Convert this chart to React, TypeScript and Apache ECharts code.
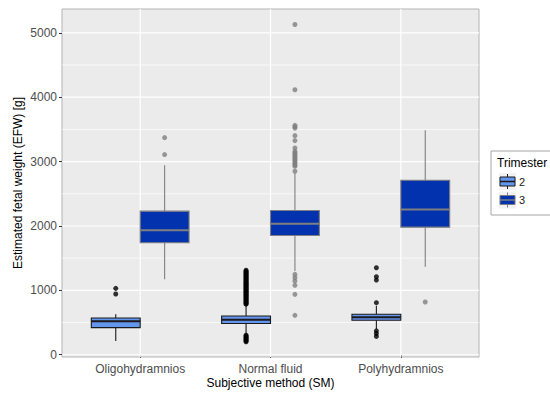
import React, { useEffect, useRef } from 'react';
import * as echarts from 'echarts';

const categories = ['Oligohydramnios', 'Normal fluid', 'Polyhydramnios'];
const trimesters = ['2', '3'];
// [lower whisker, Q1, median, Q3, upper whisker] per category
const boxT2 = [
  [214, 421, 519, 571, 628],
  [330, 486, 542, 602, 770],
  [400, 535, 581, 628, 760],
];
const boxT3 = [
  [1171, 1739, 1935, 2230, 2943],
  [1300, 1853, 2034, 2240, 2820],
  [1367, 1982, 2256, 2710, 3486],
];
const outliersT2 = [
  [943, 1031],
  [
    201, 214, 226, 239, 252, 265, 278, 291, 304,
    785, 794, 806, 818, 829, 841, 853, 864, 877, 888, 901, 912, 924, 936, 947, 959, 971, 983, 994,
    1006, 1018, 1030, 1041, 1053, 1065, 1077, 1088, 1100, 1112, 1124, 1135, 1147, 1159, 1171, 1182,
    1194, 1206, 1218, 1229, 1241, 1253, 1265, 1276, 1288, 1300, 1312,
  ],
  [285, 330, 372, 809, 1160, 1212, 1351],
];
const outliersT3 = [
  [3109, 3372],
  [
    612, 938, 1078, 1145, 1197, 1248,
    2850, 2927, 2945, 2966, 2988, 3010, 3031, 3053, 3075, 3097, 3118, 3140, 3160, 3212, 3326, 3403,
    3520, 3540, 3563, 4116, 5129,
  ],
  [819],
];
const yTicks = [0, 1000, 2000, 3000, 4000, 5000];
const yMinorGrid = [500, 1500, 2500, 3500, 4500];

const FONT = 'Liberation Sans, Arial, sans-serif';
const BOX_W = 0.375;
const DODGE = 0.1875;
const COL_T2 = '#6495ED';
const COL_T3 = '#0232AE';
const LINE_T2 = '#1a1a1a';
const LINE_T3 = '#7f7f7f';

function boxSeries(name: string, boxes: number[][], offset: number, fill: string, line: string) {
  return {
    name,
    type: 'custom',
    z: 3,
    encode: { x: 0, y: [1, 2, 3, 4, 5] },
    data: boxes.map((b, i) => [i + 1 + offset, ...b]),
    renderItem: (params: any, api: any) => {
      const x = api.value(0);
      const lo = api.coord([x, api.value(1)]);
      const q1 = api.coord([x, api.value(2)]);
      const med = api.coord([x, api.value(3)]);
      const q3 = api.coord([x, api.value(4)]);
      const hi = api.coord([x, api.value(5)]);
      const half = api.size([BOX_W, 0])[0] / 2;
      const cx = lo[0];
      return {
        type: 'group',
        children: [
          { type: 'line', shape: { x1: cx, y1: hi[1], x2: cx, y2: q3[1] }, style: { stroke: line, lineWidth: 1.1 } },
          { type: 'line', shape: { x1: cx, y1: q1[1], x2: cx, y2: lo[1] }, style: { stroke: line, lineWidth: 1.1 } },
          {
            type: 'rect',
            shape: { x: cx - half, y: q3[1], width: half * 2, height: q1[1] - q3[1] },
            style: { fill, stroke: line, lineWidth: 1.1 },
          },
          { type: 'line', shape: { x1: cx - half, y1: med[1], x2: cx + half, y2: med[1] }, style: { stroke: line, lineWidth: 2 } },
        ],
      };
    },
  };
}

function outlierSeries(name: string, outs: number[][], offset: number, color: string) {
  const data: number[][] = [];
  outs.forEach((vals, i) => vals.forEach((v) => data.push([i + 1 + offset, v])));
  return {
    name: name + '-out',
    type: 'scatter',
    z: 4,
    symbol: 'circle',
    symbolSize: 5,
    itemStyle: { color },
    data,
  };
}

export default function App() {
  const ref = useRef<HTMLDivElement>(null);
  useEffect(() => {
    if (!ref.current) return;
    const chart = echarts.init(ref.current, undefined, { renderer: 'svg' });
    const hGrid = [
      ...yTicks.map((v) => [2, v, 1.2]),
      ...yMinorGrid.map((v) => [2, v, 0.7]),
    ];
    const vGrid = categories.map((_, i) => [i + 1, 0]);
    const legendKeys = trimesters.map((t, k) => {
      const y0 = 173 + k * 18.5;
      const fill = k === 0 ? COL_T2 : COL_T3;
      const line = k === 0 ? LINE_T2 : LINE_T3;
      return {
        type: 'group',
        children: [
          { type: 'rect', shape: { x: 499, y: y0, width: 17, height: 17 }, style: { fill: '#f2f2f2' } },
          { type: 'line', shape: { x1: 507.5, y1: y0 + 1, x2: 507.5, y2: y0 + 16 }, style: { stroke: line, lineWidth: 1 } },
          { type: 'rect', shape: { x: 500, y: y0 + 4, width: 15, height: 9 }, style: { fill, stroke: line, lineWidth: 1 } },
          { type: 'line', shape: { x1: 500, y1: y0 + 8.5, x2: 515, y2: y0 + 8.5 }, style: { stroke: line, lineWidth: 1.5 } },
          { type: 'text', x: 519, y: y0 + 8.5, style: { text: t, fontSize: 11, fontFamily: FONT, fill: '#1a1a1a', verticalAlign: 'middle' } },
        ],
      };
    });
    chart.setOption({
      animation: false,
      grid: {
        left: 62,
        right: 71,
        top: 9,
        bottom: 36,
        show: true,
        outerBoundsMode: 'none',
        containLabel: false,
        backgroundColor: '#ebebeb',
        borderColor: '#b3b3b3',
        borderWidth: 1,
      },
      xAxis: {
        type: 'value',
        min: 0.4,
        max: 3.6,
        name: 'Subjective method (SM)',
        nameLocation: 'middle',
        nameGap: 20,
        nameMoveOverlap: false,
        nameTextStyle: { fontSize: 12, fontFamily: FONT, color: '#000' },
        axisLine: { show: false },
        splitLine: { show: false },
        axisTick: { show: true, length: 3, customValues: [1, 2, 3], lineStyle: { color: '#333' } },
        axisLabel: {
          customValues: [1, 2, 3],
          formatter: (v: number) => categories[Math.round(v) - 1] ?? '',
          fontSize: 12,
          fontFamily: FONT,
          color: '#4d4d4d',
          margin: 6,
        },
      },
      yAxis: {
        type: 'value',
        min: -35,
        max: 5370,
        name: 'Estimated fetal weight (EFW) [g]',
        nameLocation: 'middle',
        nameGap: 38,
        nameMoveOverlap: false,
        nameTextStyle: { fontSize: 12, fontFamily: FONT, color: '#000' },
        axisLine: { show: false },
        splitLine: { show: false },
        axisTick: { show: true, length: 3, customValues: yTicks, lineStyle: { color: '#333' } },
        axisLabel: {
          customValues: yTicks,
          formatter: (v: number) => String(v),
          fontSize: 12,
          fontFamily: FONT,
          color: '#4d4d4d',
          margin: 5,
        },
      },
      series: [
        {
          name: 'hgrid',
          type: 'custom',
          z: 1,
          silent: true,
          data: hGrid,
          renderItem: (params: any, api: any) => {
            const p = api.coord([api.value(0), api.value(1)]);
            const cs = params.coordSys;
            return {
              type: 'line',
              shape: { x1: cs.x, y1: p[1], x2: cs.x + cs.width, y2: p[1] },
              style: { stroke: '#ffffff', lineWidth: api.value(2) },
            };
          },
        },
        {
          name: 'vgrid',
          type: 'custom',
          z: 1,
          silent: true,
          data: vGrid,
          renderItem: (params: any, api: any) => {
            const p = api.coord([api.value(0), api.value(1)]);
            const cs = params.coordSys;
            return {
              type: 'line',
              shape: { x1: p[0], y1: cs.y, x2: p[0], y2: cs.y + cs.height },
              style: { stroke: '#ffffff', lineWidth: 1.2 },
            };
          },
        },
        boxSeries(trimesters[0], boxT2, -DODGE, COL_T2, LINE_T2),
        boxSeries(trimesters[1], boxT3, DODGE, COL_T3, LINE_T3),
        outlierSeries(trimesters[0], outliersT2, -DODGE, '#000000'),
        outlierSeries(trimesters[1], outliersT3, DODGE, '#7f7f7f'),
      ],
      graphic: [
        { type: 'rect', shape: { x: 491, y: 151, width: 80, height: 64 }, style: { fill: '#ffffff', stroke: '#a6a6a6', lineWidth: 1 } },
        { type: 'text', x: 497, y: 163, style: { text: 'Trimester', fontSize: 12, fontFamily: FONT, fill: '#000', verticalAlign: 'middle' } },
        ...legendKeys,
      ],
    });
    return () => chart.dispose();
  }, []);
  return <div ref={ref} style={{ width: 550, height: 393, position: 'absolute', left: 0, top: 0 }} />;
}
